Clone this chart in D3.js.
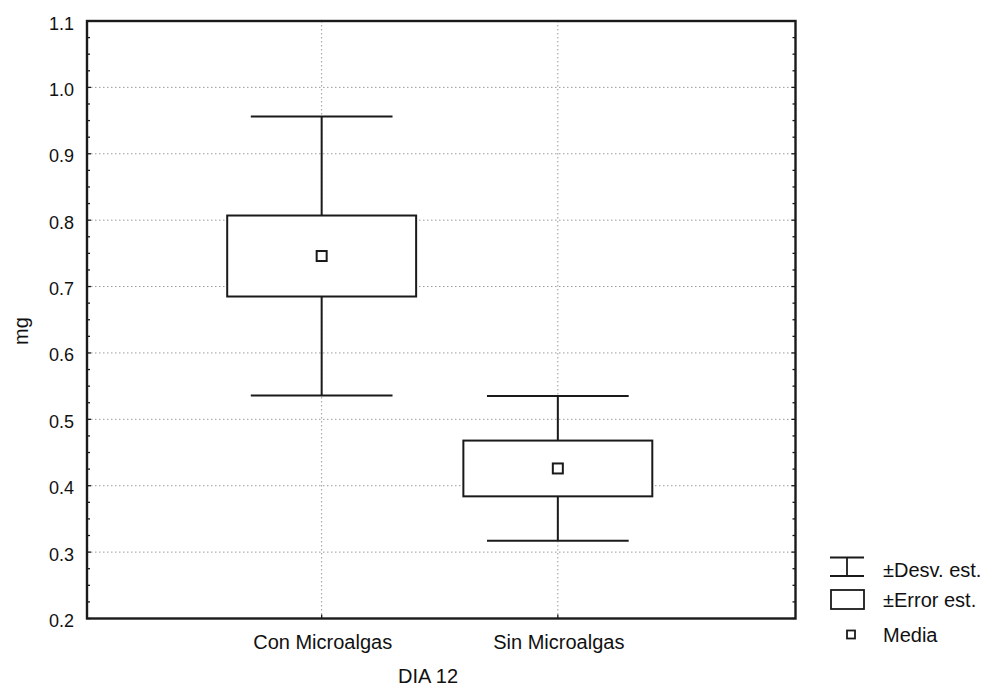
<!DOCTYPE html>
<html>
<head>
<meta charset="utf-8">
<script src="https://cdn.jsdelivr.net/npm/d3@7"></script>
<style>
  html, body { margin: 0; padding: 0; background: #fff; }
  svg { display: block; font-family: "Liberation Sans", Arial, sans-serif; }
</style>
</head>
<body>
<svg id="chart" width="990" height="694"></svg>
<script>
// Mean weight (mg) at day 12, with standard error and standard deviation
const categories = ["Con Microalgas", "Sin Microalgas"];
const means = [0.746, 0.426];
const stdErrors = [0.061, 0.042];
const stdDevs = [0.210, 0.109];
const yTicks = [0.2, 0.3, 0.4, 0.5, 0.6, 0.7, 0.8, 0.9, 1.0, 1.1];
const legendLabels = ["±Desv. est.", "±Error est.", "Media"];
const xTitle = "DIA 12";
const yTitle = "mg";

const svg = d3.select("#chart");
const plot = { left: 87, right: 795.5, top: 21, bottom: 618.5 };
const ink = "#1a1a1a";

const x = d3.scalePoint().domain(categories).range([plot.left - 1.5, plot.right - 1.5]).padding(1);
const step = x.step();
const y = d3.scaleLinear().domain([0.2, 1.1]).range([plot.bottom, plot.top]);

// Dotted grid
const grid = svg.append("g").attr("stroke", "#9a9a9a").attr("stroke-width", 1).attr("stroke-dasharray", "1.5,2.5");
grid.selectAll("line.h").data(yTicks.filter(t => t > 0.2 && t < 1.1)).join("line")
  .attr("x1", plot.left).attr("x2", plot.right)
  .attr("y1", d => y(d)).attr("y2", d => y(d));
grid.selectAll("line.v").data(categories).join("line")
  .attr("x1", d => x(d)).attr("x2", d => x(d))
  .attr("y1", plot.top).attr("y2", plot.bottom);

// Minor / major ticks inside the frame on both vertical sides
const minor = d3.range(0.2, 1.1001, 0.025);
const ticksG = svg.append("g").attr("stroke", ink).attr("stroke-width", 1.3);
[plot.left, plot.right].forEach((xx, i) => {
  const dir = i === 0 ? 1 : -1;
  ticksG.append("g").selectAll("line").data(minor).join("line")
    .attr("x1", xx).attr("x2", d => xx + dir * (Math.abs(d * 10 - Math.round(d * 10)) < 1e-6 ? 4 : 3))
    .attr("y1", d => y(d)).attr("y2", d => y(d));
});
ticksG.append("g").selectAll("line").data(categories).join("line")
  .attr("x1", d => x(d)).attr("x2", d => x(d))
  .attr("y1", plot.bottom).attr("y2", plot.bottom - 4);

// Y axis tick labels
svg.append("g").selectAll("text").data(yTicks).join("text")
  .attr("x", 74).attr("y", d => y(d) + 8.5)
  .attr("text-anchor", "end").attr("font-size", 18).attr("fill", "#111")
  .text(d => d.toFixed(1));

// Category labels
svg.append("g").selectAll("text").data(categories).join("text")
  .attr("x", d => x(d) + 1).attr("y", 649)
  .attr("text-anchor", "middle").attr("font-size", 20).attr("fill", "#111")
  .text(d => d);

// Axis titles
svg.append("text").attr("x", 428).attr("y", 683).attr("text-anchor", "middle")
  .attr("font-size", 20).attr("fill", "#111").text(xTitle);
svg.append("text").attr("transform", "translate(28,331) rotate(-90)")
  .attr("text-anchor", "middle").attr("font-size", 20).attr("fill", "#111").text(yTitle);

// Box plots: whiskers = mean ± SD, box = mean ± SE, square = mean
const data = categories.map((c, i) => ({ c, m: means[i], se: stdErrors[i], sd: stdDevs[i] }));
const boxW = step * 0.8, capW = step * 0.6;
const marks = svg.append("g").attr("stroke", ink).attr("stroke-width", 2).attr("fill", "none");
data.forEach(d => {
  const cx = x(d.c);
  marks.append("line").attr("x1", cx).attr("x2", cx).attr("y1", y(d.m + d.sd)).attr("y2", y(d.m - d.sd));
  marks.append("line").attr("x1", cx - capW / 2).attr("x2", cx + capW / 2).attr("y1", y(d.m + d.sd)).attr("y2", y(d.m + d.sd));
  marks.append("line").attr("x1", cx - capW / 2).attr("x2", cx + capW / 2).attr("y1", y(d.m - d.sd)).attr("y2", y(d.m - d.sd));
  marks.append("rect").attr("x", cx - boxW / 2).attr("width", boxW)
    .attr("y", y(d.m + d.se)).attr("height", y(d.m - d.se) - y(d.m + d.se)).attr("fill", "#fff");
  marks.append("rect").attr("x", cx - 5).attr("y", y(d.m) - 5).attr("width", 10).attr("height", 10).attr("fill", "#fff");
});

// Frame
svg.append("rect").attr("x", plot.left).attr("y", plot.top)
  .attr("width", plot.right - plot.left).attr("height", plot.bottom - plot.top)
  .attr("fill", "none").attr("stroke", ink).attr("stroke-width", 2.4);

// Legend
const lg = svg.append("g").attr("stroke", ink).attr("stroke-width", 1.8).attr("fill", "none");
lg.append("line").attr("x1", 830).attr("x2", 864).attr("y1", 557.5).attr("y2", 557.5);
lg.append("line").attr("x1", 830).attr("x2", 864).attr("y1", 576).attr("y2", 576);
lg.append("line").attr("x1", 847).attr("x2", 847).attr("y1", 557.5).attr("y2", 576);
lg.append("rect").attr("x", 831).attr("y", 590).attr("width", 33).attr("height", 19);
lg.append("rect").attr("x", 847).attr("y", 630.5).attr("width", 8).attr("height", 8);
svg.append("g").selectAll("text").data(legendLabels).join("text")
  .attr("x", 883).attr("y", (d, i) => [577, 607, 642][i])
  .attr("font-size", 20).attr("fill", "#111").text(d => d);
</script>
</body>
</html>
